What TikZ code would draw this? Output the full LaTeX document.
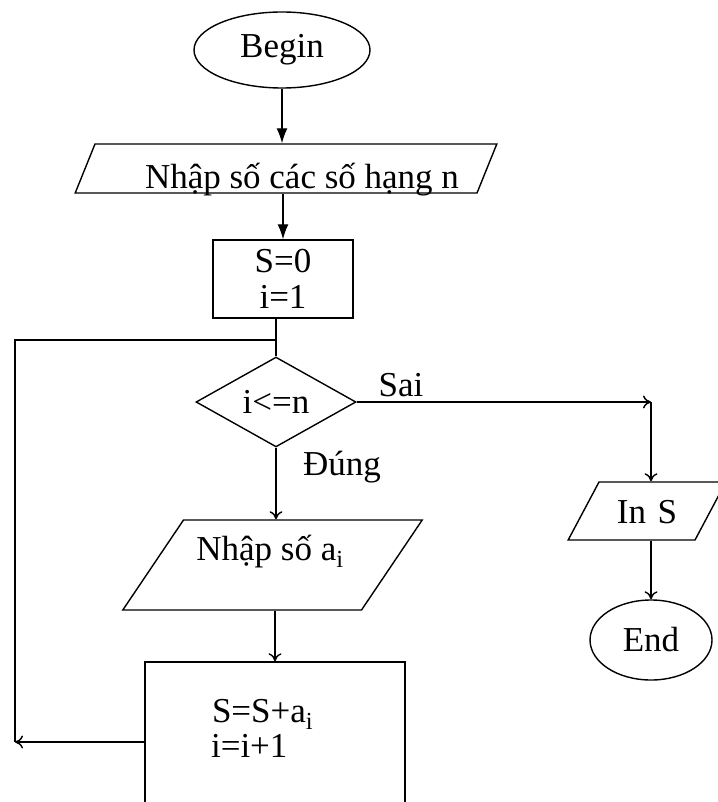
\documentclass[tikz,border=0pt]{standalone}
\usepackage{fontspec}
\setmainfont{Liberation Serif}
\usetikzlibrary{shapes.geometric,arrows.meta}
\tikzset{>={Latex[length=15pt,width=11pt]}}
\tikzset{
  term/.style={draw, ellipse, inner sep=0pt},
  io/.style={draw, trapezium, inner sep=0pt, align=center},
  proc/.style={draw, rectangle, inner sep=0pt, align=center},
  test/.style={draw, diamond, inner sep=0pt},
  thin arrow/.style={-{To[length=8pt,width=13pt]}}
}

\begin{document}
\begin{tikzpicture}[x=1pt,y=-1pt,line width=1.4pt,font=\fontsize{35}{36}\selectfont]
\useasboundingbox (0,0) rectangle (717,802);

% main column
\node[term, minimum width=176, minimum height=76] (begin) at (282,50) {Begin};

\node[io, trapezium left angle=68, trapezium right angle=112,
      text width=382, text height=49, text depth=0] (in1) at (286,168.5) {};
\node[anchor=base] at (302,189) {Nhập số các số hạng n};

\node[proc, minimum width=140, minimum height=78] (init) at (283,279) {S=0\\i=1};

\node[test, minimum width=160, minimum height=84] (cond) at (276,402) {i<=n};

\node[io, trapezium left angle=56, trapezium right angle=124,
      text width=178, text height=90, text depth=0] (in2) at (272.5,565) {};
\node[anchor=base] at (270,560) {Nhập số a\textsubscript{i}};

\node[proc, minimum width=260, minimum height=160] (upd) at (275,742) {};
\node[anchor=base west] at (208,722) {S=S+a\textsubscript{i}};
\node[anchor=base west] at (207,757) {i=i+1};

% right column
\node[io, trapezium left angle=62, trapezium right angle=118,
      text width=96, text height=41, text depth=17] (outS) at (647,511) {In S};
\node[term, minimum width=122, minimum height=80] (endN) at (651,640) {End};

\node at (401,385) {Sai};
\node at (342,467) {Đúng};

% connectors
\coordinate (loop) at (15,340);
\coordinate (back) at (15,742);
\coordinate (sai) at (651,402);

\draw[->] (begin.south) -- (begin.south |- in1.north);
\draw[->] (in1.south -| init.north) -- (init.north);
\draw (init.south -| cond.north) -- (cond.north);
\draw (cond.north |- loop) -- (loop) -- (back);
\draw[thin arrow] (upd.west) -- (back);

\draw[thin arrow] (cond.east) -- (sai);
\draw[thin arrow] (sai) -- (sai |- outS.north);
\draw[thin arrow] (outS.south -| sai) -- (endN.north);

\draw[thin arrow] (cond.south) -- (cond.south |- in2.north);
\draw[thin arrow] (in2.south -| upd.north) -- (upd.north);

\end{tikzpicture}
\end{document}
